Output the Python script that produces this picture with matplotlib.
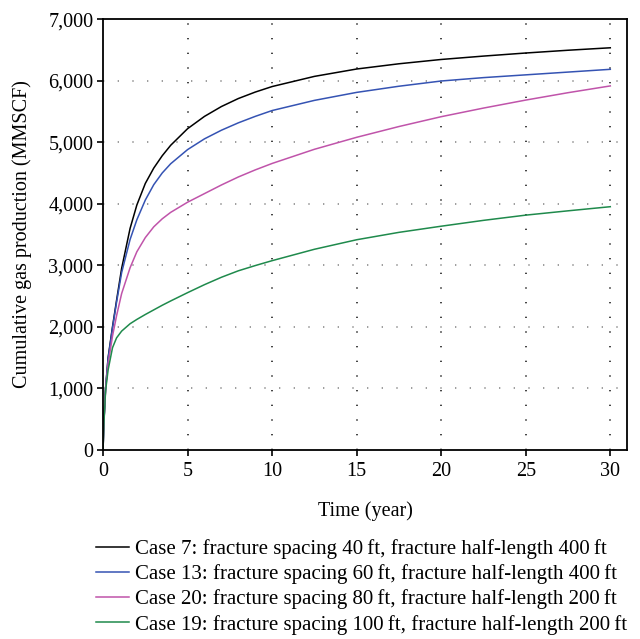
import matplotlib
matplotlib.use("Agg")
import matplotlib.pyplot as plt

plt.rcParams['font.family'] = ['Liberation Serif', 'DejaVu Serif']

# time axis (years) and cumulative gas production (MMSCF)
time = [0, 0.05, 0.15, 0.3, 0.56, 0.8, 1.1, 1.6, 2, 2.5, 3, 3.5, 4, 5, 6, 7,
        8, 9, 10, 12.5, 15, 17.5, 20, 22.5, 25, 27.5, 30]

case7 = [0, 450, 1000, 1500, 2000, 2430, 2950, 3600, 3980, 4330, 4580, 4780,
         4950, 5220, 5420, 5580, 5710, 5815, 5905, 6070, 6190, 6275, 6345,
         6400, 6450, 6495, 6535]
case13 = [0, 450, 1000, 1480, 1980, 2400, 2880, 3420, 3740, 4060, 4310, 4500,
          4650, 4880, 5055, 5195, 5315, 5420, 5515, 5680, 5810, 5910, 5995,
          6050, 6095, 6140, 6185]
case20 = [0, 450, 980, 1400, 1850, 2180, 2540, 2960, 3220, 3450, 3625, 3755,
          3860, 4025, 4165, 4305, 4435, 4550, 4655, 4885, 5080, 5255, 5415,
          5555, 5685, 5805, 5915]
case19 = [0, 420, 960, 1300, 1660, 1820, 1930, 2050, 2120, 2200, 2275, 2350,
          2420, 2555, 2685, 2805, 2910, 2995, 3075, 3260, 3415, 3535, 3635,
          3730, 3815, 3885, 3952]

labels = [
    "Case 7: fracture spacing 40\u2009ft, fracture half-length 400\u2009ft",
    "Case 13: fracture spacing 60\u2009ft, fracture half-length 400\u2009ft",
    "Case 20: fracture spacing 80\u2009ft, fracture half-length 200\u2009ft",
    "Case 19: fracture spacing 100\u2009ft, fracture half-length 200\u2009ft",
]
colors = ["black", "#3553b3", "#c054aa", "#1f8a4c"]
series = [case7, case13, case20, case19]

xticks = [0, 5, 10, 15, 20, 25, 30]
yticks = [0, 1000, 2000, 3000, 4000, 5000, 6000, 7000]

fs = 14.5

fig = plt.figure(figsize=(6.4, 6.39), dpi=100)
ax = fig.add_axes([0.161, 0.296, 0.819, 0.674])

for y, c, lab in zip(series, colors, labels):
    ax.plot(time, y, color=c, lw=1.1, label=lab)

ax.set_xlim(0, 31)
ax.set_ylim(0, 7000)
ax.set_xticks(xticks)
ax.set_yticks(yticks)
ax.set_yticklabels([f"{v:,}" for v in yticks])

# dotted grid: grey horizontals, dark verticals
for v in yticks[1:-1]:
    ax.axhline(v, color="#8c8c8c", lw=1.2, linestyle=(0, (0.8, 8)), zorder=0)
for v in xticks[1:]:
    ax.axvline(v, color="#222222", lw=1.2, linestyle=(0, (0.8, 8)), zorder=0)

ax.tick_params(direction="out", length=4, width=1.2, labelsize=fs)
ax.tick_params(axis="x", pad=5)
ax.tick_params(axis="y", pad=3)
for s in ax.spines.values():
    s.set_linewidth(1.3)

ax.set_xlabel("Time (year)", fontsize=fs, labelpad=14)
ax.set_ylabel("Cumulative gas production (MMSCF)", fontsize=fs, labelpad=12)

fig.legend(loc="upper left", bbox_to_anchor=(0.150, 0.156), frameon=False,
           fontsize=15, handlelength=1.6, handletextpad=0.25,
           labelspacing=0.25, borderaxespad=0, borderpad=0)

fig.savefig("out.png", dpi=100)
